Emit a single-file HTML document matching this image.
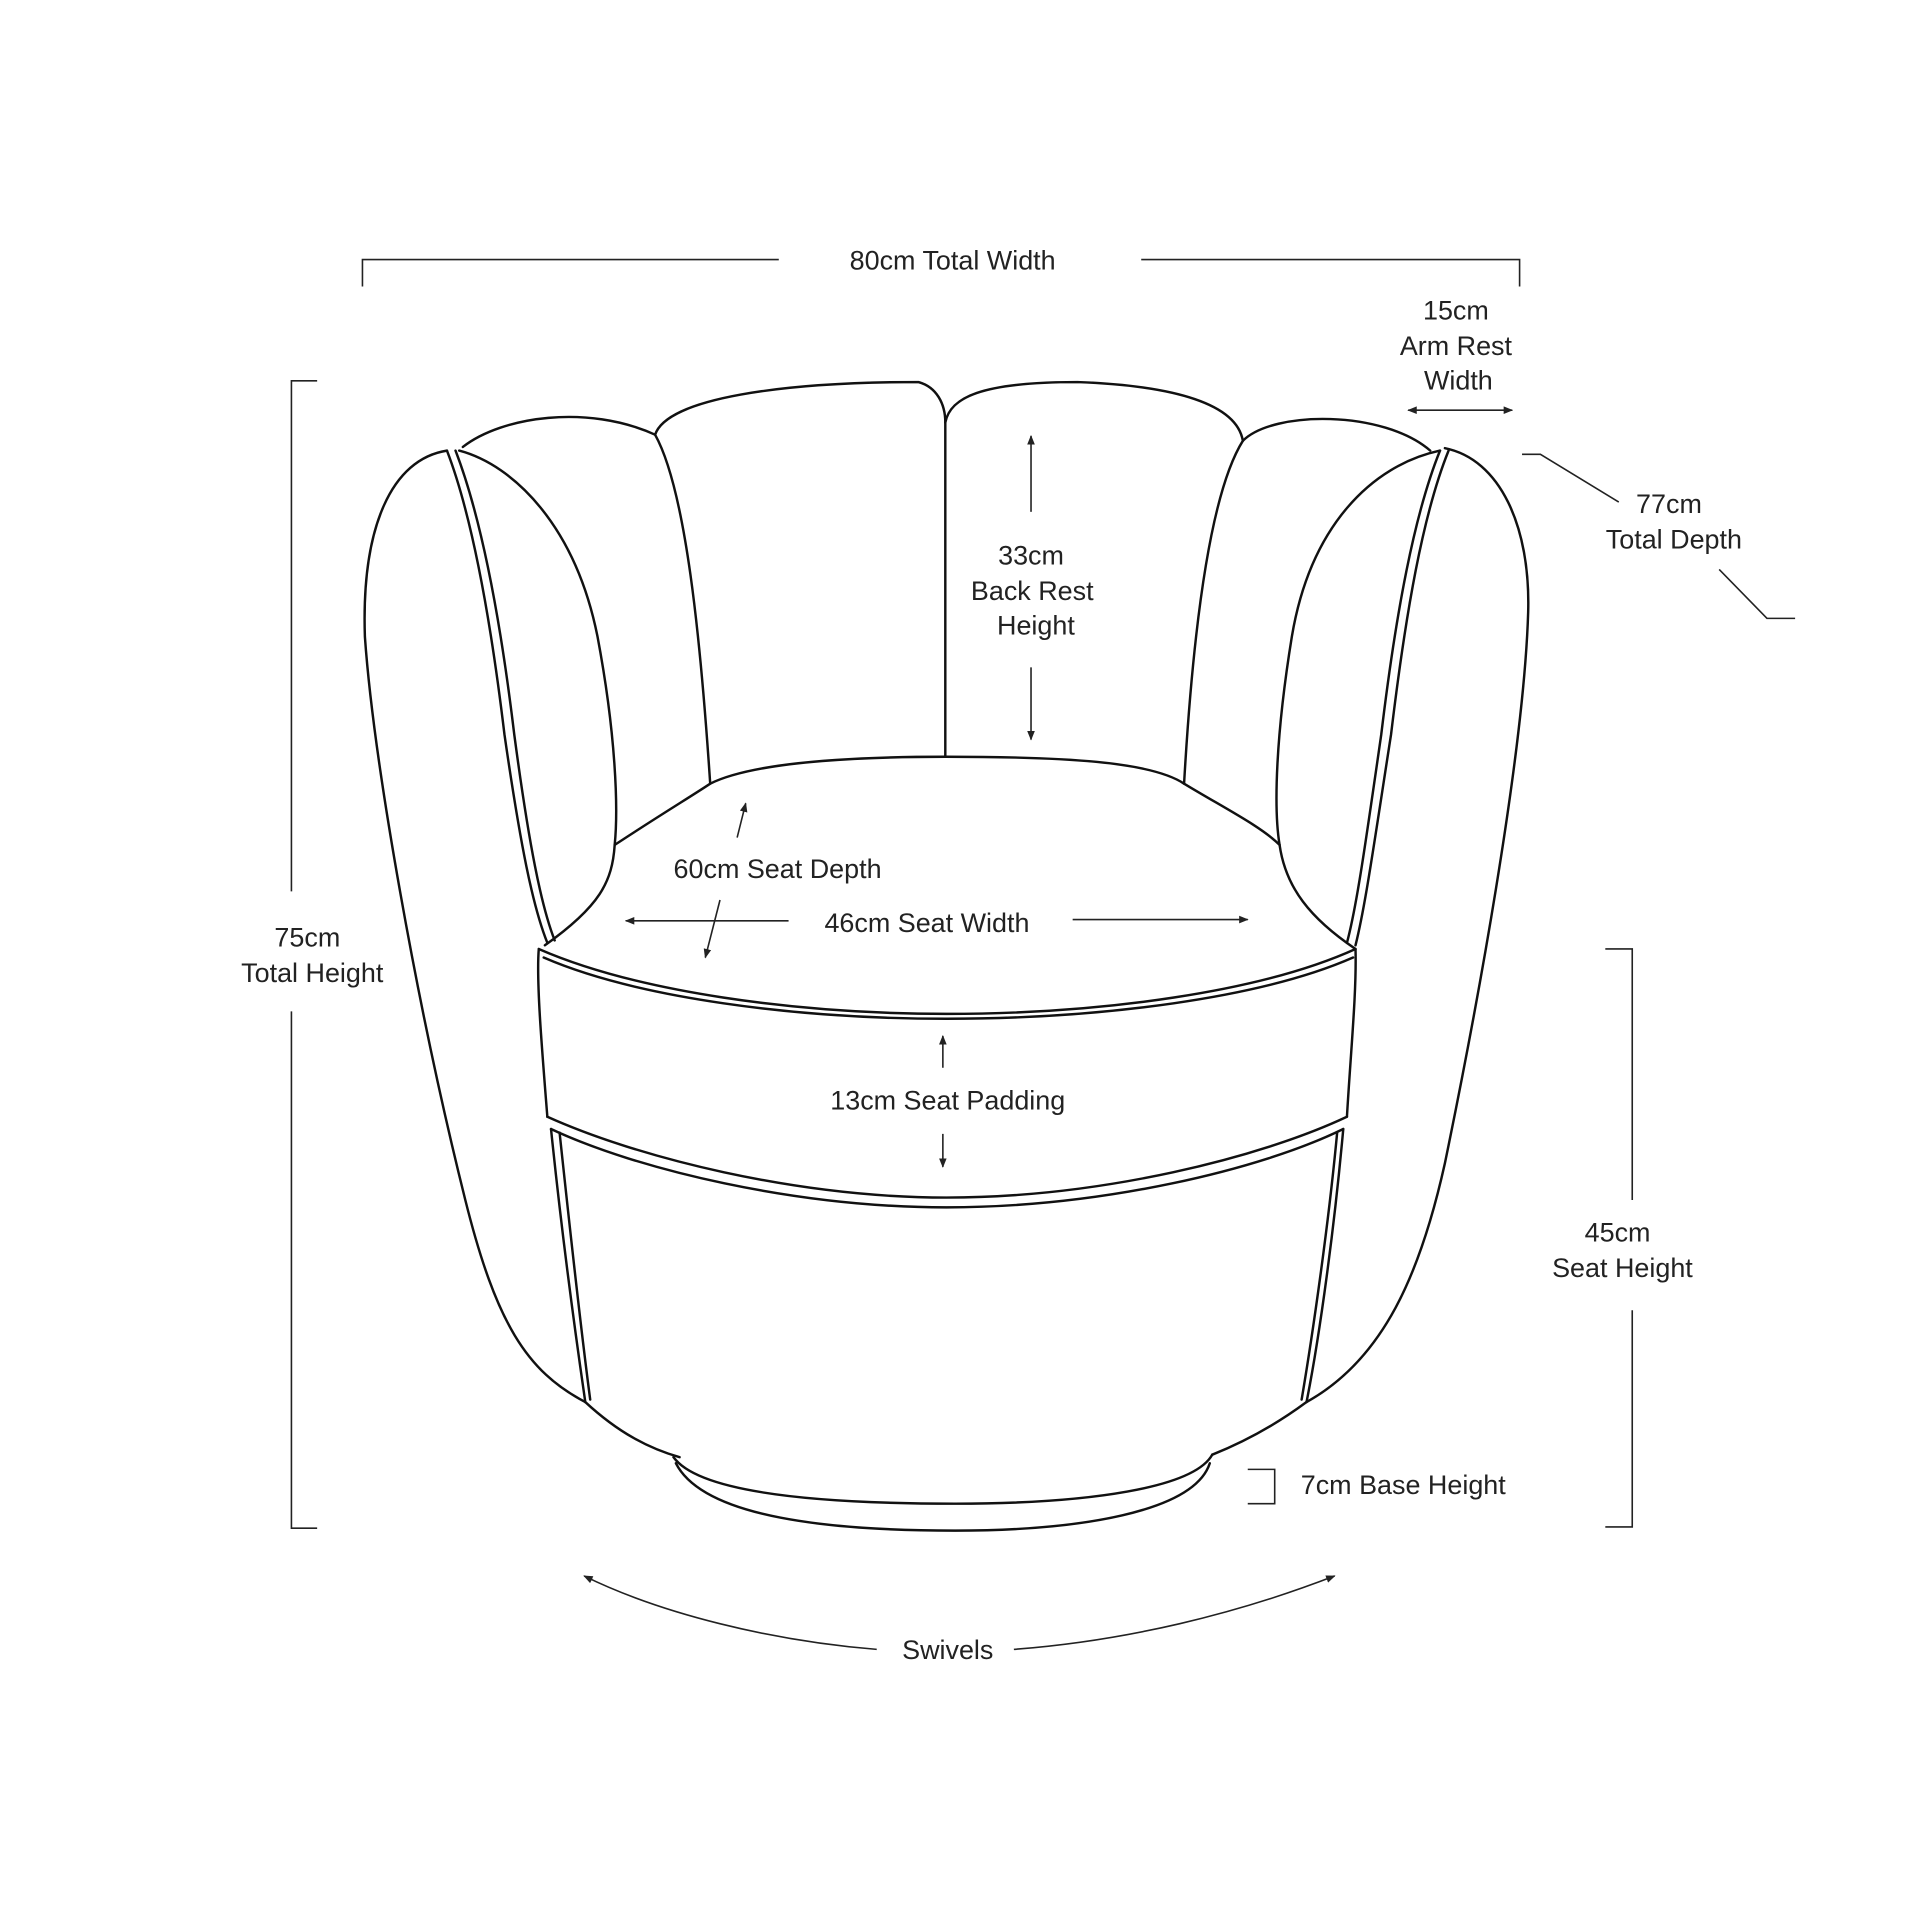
<!DOCTYPE html>
<html><head><style>
html,body{margin:0;padding:0;background:#fff;}
svg{display:block;}
text{font-family:"Liberation Sans",sans-serif;font-size:22px;fill:#222;text-anchor:middle;}
</style></head><body>
<svg width="1920" height="1920" viewBox="0 0 1568 1568" xmlns="http://www.w3.org/2000/svg">
<defs><marker id="a" viewBox="0 0 10 10" refX="9" refY="5" markerWidth="6" markerHeight="6" orient="auto-start-reverse"><path d="M0,1 L10,5 L0,9 z" fill="#222"/></marker></defs>
<g fill="none" stroke="#111" stroke-width="2" stroke-linejoin="round" stroke-linecap="round">
<path d="M365,368 C320,375 295,430 298,520 C305,620 340,820 380,980 C405,1080 430,1120 478,1145"/>
<path d="M365,368 C385,420 400,500 412,600 C425,690 435,740 447,770"/>
<path d="M372,368 C392,420 408,500 420,600 C432,690 442,740 453,768"/>
<path d="M375,368 C420,380 470,430 488,520 C503,600 505,660 502,690 C500,720 490,740 445,772"/>
<path d="M378,365 C410,340 480,330 535,355"/>
<path d="M535,355 C545,325 640,312 750,312 C765,316 772,330 772,345"/>
<path d="M535,355 C560,400 572,520 580,640"/>
<path d="M772,345 L772,618"/>
<path d="M772,345 C776,325 800,312 880,312 C960,315 1010,330 1015,360"/>
<path d="M1015,360 C990,400 975,500 967,640"/>
<path d="M1015,360 C1040,335 1130,335 1168,368"/>
<path d="M1176,368 C1120,380 1070,430 1055,520 C1042,600 1040,660 1045,690 C1050,725 1070,750 1107,775"/>
<path d="M1180,366 C1225,375 1250,430 1248,500 C1245,600 1215,780 1180,950 C1160,1040 1130,1110 1067,1145"/>
<path d="M1176,368 C1155,420 1140,500 1128,600 C1115,690 1108,740 1100,770"/>
<path d="M1183,368 C1162,420 1148,500 1136,600 C1122,690 1115,740 1107,772"/>
<path d="M502,690 C540,665 565,650 580,640 C620,620 720,618 772,618 C870,618 940,622 967,640 C1000,660 1030,675 1045,690"/>
<path d="M440,775 C520,810 650,828 773,828 C900,828 1030,810 1107,775"/>
<path d="M444,782 C520,815 650,832 773,832 C900,832 1030,815 1105,782"/>
<path d="M440,775 C438,800 442,850 447,912"/>
<path d="M1107,775 C1108,810 1103,860 1100,912"/>
<path d="M447,912 C520,945 650,978 773,978 C900,978 1030,945 1100,912"/>
<path d="M450,922 C520,955 650,986 773,986 C900,986 1030,955 1097,922"/>
<path d="M450,922 C458,1000 470,1090 478,1145"/>
<path d="M457,925 C465,1000 475,1090 482,1143"/>
<path d="M1097,922 C1090,1000 1078,1090 1067,1145"/>
<path d="M1092,925 C1085,1000 1072,1090 1063,1143"/>
<path d="M478,1145 C505,1170 530,1183 555,1190"/>
<path d="M1067,1145 C1040,1165 1015,1178 990,1188"/>
<path d="M550,1190 C570,1218 660,1228 780,1228 C890,1228 975,1215 990,1188"/>
<path d="M552,1195 C575,1240 680,1250 780,1250 C880,1250 975,1235 988,1195"/>
</g>
<g fill="none" stroke="#222" stroke-width="1.3">
<path d="M296,234 L296,212 L636,212 M932,212 L1241,212 L1241,234"/>
<path d="M259,311 L238,311 L238,728 M238,826 L238,1248 L259,1248"/>
<path d="M1311,775 L1333,775 L1333,980 M1333,1070 L1333,1247 L1311,1247"/>
<path d="M1019,1200 L1041,1200 L1041,1228 L1019,1228"/>
<path d="M1243,371 L1258,371 L1322,410 M1404,465 L1443,505 L1466,505"/>
<path d="M1150,335 L1235,335" marker-start="url(#a)" marker-end="url(#a)"/>
<path d="M842,418 L842,356" marker-end="url(#a)"/>
<path d="M842,545 L842,604" marker-end="url(#a)"/>
<path d="M602,684 L609,656" marker-end="url(#a)"/>
<path d="M588,735 L576,782" marker-end="url(#a)"/>
<path d="M644,752 L511,752" marker-end="url(#a)"/>
<path d="M876,751 L1019,751" marker-end="url(#a)"/>
<path d="M770,872 L770,846" marker-end="url(#a)"/>
<path d="M770,926 L770,953" marker-end="url(#a)"/>
<path d="M716,1347 C630,1340 540,1318 477,1287" marker-end="url(#a)"/>
<path d="M828,1347 C920,1340 1010,1318 1090,1287" marker-end="url(#a)"/>
</g>
<text x="778" y="220">80cm Total Width</text>
<text x="1189" y="261">15cm</text>
<text x="1189" y="290">Arm Rest</text>
<text x="1191" y="318">Width</text>
<text x="1363" y="419">77cm</text>
<text x="1367" y="448">Total Depth</text>
<text x="842" y="461">33cm</text>
<text x="843" y="490">Back Rest</text>
<text x="846" y="518">Height</text>
<text x="251" y="773">75cm</text>
<text x="255" y="802">Total Height</text>
<text x="635" y="717">60cm Seat Depth</text>
<text x="757" y="761">46cm Seat Width</text>
<text x="774" y="906">13cm Seat Padding</text>
<text x="1321" y="1014">45cm</text>
<text x="1325" y="1043">Seat Height</text>
<text x="1146" y="1220">7cm Base Height</text>
<text x="774" y="1355">Swivels</text>
</svg>
</body></html>
